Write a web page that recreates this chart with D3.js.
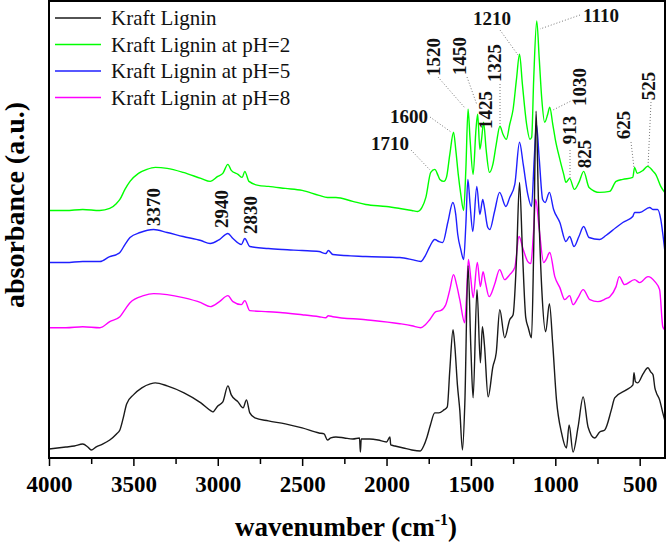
<!DOCTYPE html>
<html>
<head>
<meta charset="utf-8">
<script src="https://cdn.jsdelivr.net/npm/d3@7"></script>
<style>
html,body{margin:0;padding:0;background:#fff;}
svg{display:block;}
text{font-family:"Liberation Serif","Times New Roman",serif;}
</style>
</head>
<body>
<svg id="chart" width="666" height="542"></svg>
<script>
// ---------- DATA (wavenumber cm-1, absorbance a.u., stacked as plotted) ----------
const kraftLignin = [
[4000,0.09],[3950,0.10],[3900,0.11],[3850,0.12],[3800,0.14],[3770,0.11],[3750,0.08],[3720,0.11],
[3680,0.14],[3640,0.18],[3600,0.24],[3580,0.28],[3560,0.40],[3540,0.54],[3500,0.63],[3450,0.70],
[3400,0.74],[3370,0.75],[3300,0.72],[3200,0.65],[3100,0.55],[3040,0.47],[3030,0.46],[3000,0.52],
[2970,0.56],[2940,0.72],[2920,0.63],[2880,0.56],[2850,0.50],[2830,0.58],[2810,0.45],[2780,0.40],
[2700,0.37],[2600,0.34],[2500,0.30],[2400,0.25],[2370,0.24],[2350,0.18],[2330,0.20],[2300,0.21],
[2250,0.20],[2200,0.19],[2160,0.20],[2155,0.06],[2150,0.19],[2100,0.19],[2050,0.18],[2000,0.16],
[1980,0.21],[1975,0.13],[1950,0.12],[1900,0.10],[1850,0.08],[1800,0.07],[1780,0.12],[1760,0.21],
[1740,0.33],[1714,0.45],[1690,0.45],[1660,0.48],[1640,0.51],[1625,0.88],[1606,1.28],[1595,1.11],
[1580,0.73],[1566,0.48],[1550,0.08],[1536,0.55],[1517,1.92],[1500,1.08],[1487,0.60],[1464,1.68],
[1444,0.95],[1432,1.31],[1420,1.13],[1398,0.61],[1370,0.91],[1350,1.05],[1329,1.48],[1300,1.20],
[1270,1.38],[1250,1.43],[1230,1.98],[1212,2.75],[1195,2.08],[1175,1.40],[1160,1.30],[1141,1.20],
[1128,2.08],[1114,3.46],[1100,2.58],[1080,1.68],[1057,1.26],[1035,1.54],[1015,1.13],[993,0.58],
[963,0.25],[934,0.10],[918,0.33],[895,0.06],[865,0.31],[835,0.61],[806,0.31],[767,0.20],
[737,0.26],[707,0.28],[668,0.48],[648,0.60],[579,0.68],[540,0.73],[534,0.85],[525,0.76],
[511,0.75],[480,0.84],[451,0.90],[435,0.86],[421,0.83],[410,0.70],[401,0.65],[382,0.58],
[363,0.45],[352,0.38]
];
const kraftPH2 = [
[4000,2.47],[3900,2.47],[3800,2.48],[3700,2.47],[3640,2.49],[3600,2.54],[3580,2.58],
[3550,2.68],[3520,2.76],[3470,2.84],[3420,2.88],[3370,2.90],[3300,2.89],[3205,2.85],[3100,2.79],
[3045,2.76],[3000,2.81],[2970,2.84],[2940,2.93],[2920,2.87],[2880,2.83],[2855,2.80],[2840,2.86],
[2815,2.76],[2760,2.72],[2700,2.71],[2600,2.69],[2500,2.67],[2400,2.62],[2350,2.60],[2300,2.60],
[2200,2.56],[2123,2.53],[2000,2.51],[1921,2.49],[1850,2.47],[1815,2.46],[1790,2.50],[1767,2.60],
[1738,2.85],[1714,2.88],[1695,2.82],[1684,2.78],[1660,2.76],[1645,2.80],[1625,3.03],[1603,3.25],
[1590,3.08],[1575,2.83],[1560,2.63],[1543,2.47],[1530,2.88],[1517,3.48],[1505,3.18],[1487,2.83],
[1470,3.28],[1460,3.43],[1447,3.08],[1437,3.18],[1425,3.35],[1410,3.08],[1390,2.85],[1370,2.93],
[1350,3.13],[1328,3.31],[1310,3.23],[1290,3.18],[1270,3.33],[1250,3.48],[1230,3.78],[1212,4.03],
[1195,3.73],[1170,3.33],[1150,3.18],[1140,3.20],[1128,3.78],[1110,4.36],[1095,3.98],[1080,3.58],
[1063,3.35],[1045,3.43],[1033,3.50],[1015,3.33],[1000,3.18],[973,2.98],[950,2.83],[937,2.75],
[915,2.79],[887,2.68],[860,2.75],[832,2.86],[800,2.70],[737,2.65],[678,2.66],[640,2.76],
[600,2.78],[541,2.80],[530,2.90],[515,2.84],[480,2.87],[453,2.91],[420,2.86],[405,2.83],
[375,2.71],[352,2.65]
];
const kraftPH5 = [
[4000,1.95],[3900,1.95],[3800,1.96],[3698,1.96],[3640,2.01],[3600,2.03],[3580,2.05],[3550,2.13],
[3520,2.20],[3460,2.25],[3380,2.28],[3300,2.25],[3205,2.21],[3100,2.17],[3045,2.14],[2990,2.18],
[2940,2.24],[2910,2.19],[2860,2.13],[2840,2.19],[2810,2.11],[2700,2.09],[2615,2.08],[2500,2.07],
[2400,2.06],[2360,2.04],[2345,2.07],[2318,2.03],[2123,2.01],[1921,2.00],[1850,1.98],[1797,1.96],
[1770,2.02],[1744,2.11],[1714,2.18],[1690,2.16],[1667,2.15],[1637,2.35],[1607,2.55],[1590,2.43],
[1578,2.23],[1560,2.08],[1543,1.98],[1530,2.33],[1518,2.78],[1505,2.53],[1489,2.26],[1465,2.71],
[1447,2.43],[1430,2.58],[1420,2.50],[1400,2.30],[1388,2.28],[1360,2.46],[1330,2.65],[1293,2.51],
[1270,2.60],[1240,2.73],[1212,3.15],[1190,2.93],[1163,2.63],[1141,2.51],[1125,2.98],[1112,3.33],
[1095,2.98],[1075,2.58],[1060,2.55],[1035,2.65],[1010,2.48],[973,2.35],[937,2.16],[915,2.21],
[889,2.11],[860,2.21],[832,2.31],[800,2.20],[737,2.18],[700,2.22],[640,2.30],[600,2.35],
[541,2.41],[530,2.45],[500,2.45],[441,2.50],[420,2.48],[394,2.48],[375,2.38],[364,2.25],[352,2.08]
];
const kraftPH8 = [
[4000,1.30],[3900,1.30],[3800,1.31],[3698,1.30],[3640,1.36],[3580,1.41],[3550,1.48],[3520,1.55],
[3440,1.62],[3380,1.64],[3300,1.63],[3205,1.60],[3100,1.55],[3045,1.51],[2990,1.56],[2940,1.62],
[2910,1.56],[2860,1.53],[2840,1.57],[2810,1.47],[2700,1.46],[2615,1.45],[2500,1.43],[2400,1.41],
[2360,1.40],[2345,1.42],[2318,1.41],[2123,1.38],[1921,1.34],[1850,1.32],[1797,1.30],[1770,1.33],
[1744,1.38],[1707,1.46],[1680,1.47],[1649,1.53],[1625,1.68],[1603,1.83],[1585,1.73],[1566,1.58],
[1537,1.35],[1527,1.58],[1515,1.98],[1500,1.78],[1487,1.60],[1462,1.95],[1444,1.71],[1428,1.86],
[1415,1.76],[1392,1.61],[1360,1.73],[1330,1.88],[1300,1.78],[1270,1.83],[1240,1.90],[1215,2.21],
[1190,2.08],[1163,1.96],[1145,1.94],[1130,2.23],[1116,2.58],[1095,2.28],[1069,1.95],[1055,1.98],
[1033,2.05],[1003,1.81],[973,1.70],[944,1.58],[915,1.62],[895,1.53],[865,1.60],[835,1.68],
[795,1.58],[748,1.56],[700,1.59],[677,1.61],[640,1.71],[621,1.81],[590,1.73],[530,1.78],
[500,1.75],[451,1.81],[410,1.76],[382,1.68],[363,1.31],[352,1.28]
];
const seriesNames = ["Kraft Lignin","Kraft Lignin at pH=2","Kraft Lignin at pH=5","Kraft Lignin at pH=8"];
const seriesData = [kraftLignin, kraftPH2, kraftPH5, kraftPH8];
const seriesColors = ["#1a1a1a","#00ff00","#1f1fff","#ff00ff"];
const xTickValues = [4000,3500,3000,2500,2000,1500,1000,500];
const xMinorTicks = [3750,3250,2750,2250,1750,1250,750];
const peakLabels = ["1710","1600","1520","1450","1425","1325","1210","1110","1030","913","825","625","525","3370","2940","2830"];

// ---------- LAYOUT ----------
const SERIF = '"Liberation Serif","Times New Roman",serif';
const plot = {left:49, right:665, top:1, bottom:458};
const svg = d3.select("#chart");
const x = d3.scaleLinear().domain([4000,350]).range([plot.left, plot.right]);
const y = d3.scaleLinear().domain([0,4.56]).range([plot.bottom, plot.top]);

// spectra
const line = d3.line().x(d=>x(d[0])).y(d=>y(d[1])).curve(d3.curveMonotoneX);
const g = svg.append("g");
[3,2,1,0].forEach(i=>{
  g.append("path").datum(seriesData[i]).attr("d", line)
   .attr("fill","none").attr("stroke", seriesColors[i]).attr("stroke-width",1.4)
   .attr("stroke-linejoin","round");
});

// frame
svg.append("rect").attr("x",plot.left).attr("y",plot.top)
  .attr("width",plot.right-plot.left).attr("height",plot.bottom-plot.top)
  .attr("fill","none").attr("stroke","#000").attr("stroke-width",2);

// x axis
const xAxis = d3.axisBottom(x).tickValues(xTickValues).tickSize(8).tickPadding(10).tickFormat(d3.format("d"));
const ax = svg.append("g").attr("transform",`translate(0,${plot.bottom})`).call(xAxis)
  .attr("font-family", SERIF).attr("font-size",23).attr("font-weight","bold");
ax.select(".domain").remove();
ax.selectAll(".tick line").attr("stroke","#000").attr("stroke-width",1.5);
ax.selectAll(".tick text").attr("fill","#000").attr("font-family", SERIF);
const axMinor = d3.axisBottom(x).tickValues(xMinorTicks).tickSize(6).tickFormat("");
const am = svg.append("g").attr("transform",`translate(0,${plot.bottom})`).call(axMinor);
am.select(".domain").remove();
am.selectAll(".tick line").attr("stroke","#000").attr("stroke-width",1.5);

// axis titles
const xt = svg.append("text").attr("x",346).attr("y",536).attr("text-anchor","middle")
  .attr("font-size",27).attr("font-weight","bold").attr("fill","#000");
xt.append("tspan").text("wavenumber (cm");
xt.append("tspan").text("-1").attr("font-size",16).attr("dy",-11);
xt.append("tspan").text(")").attr("dy",11);

svg.append("text").attr("transform","translate(24,205) rotate(-90)").attr("text-anchor","middle")
  .attr("font-size",28).attr("font-weight","bold").attr("fill","#000").text("absorbance (a.u.)");

// legend
const legendRowY = [18,44.5,71,97.5];
const lg = svg.append("g");
seriesNames.forEach((n,i)=>{
  lg.append("line").attr("x1",55).attr("x2",101).attr("y1",legendRowY[i]).attr("y2",legendRowY[i])
    .attr("stroke",seriesColors[i]).attr("stroke-width",1.4);
  lg.append("text").attr("x",111).attr("y",legendRowY[i]+7).attr("font-size",21).attr("fill","#111").text(n);
});

// peak annotations (position layout: [rotated?, anchorX, anchorY, leader x1,y1,x2,y2])
const annLayout = {
  "1710":[false,390,150, 411,150,430,170],
  "1600":[false,409,123, 430,117,451,132],
  "1520":[true,440,57, 438,77,465,108],
  "1450":[true,466,56, 467,77,477,105],
  "1425":[true,492,110],
  "1325":[true,501,63, 500,84,500,125],
  "1210":[false,492,25, 500,30,518,55],
  "1110":[false,601,22, 580,15,540,29],
  "1030":[true,586,87, 573,100,553,110],
  "913":[true,576,130, 570,150,570,178],
  "825":[true,591,154],
  "625":[true,630,125, 631,142,634,168],
  "525":[true,655,86, 651,102,648,167],
  "3370":[true,160,207],
  "2940":[true,228,209],
  "2830":[true,257,215]
};
const an = svg.append("g");
peakLabels.forEach(lbl=>{
  const L = annLayout[lbl];
  if (L.length > 3) {
    an.append("line").attr("x1",L[3]).attr("y1",L[4]).attr("x2",L[5]).attr("y2",L[6])
      .attr("stroke","#777").attr("stroke-width",1).attr("stroke-dasharray","1,2");
  }
  const t = an.append("text").attr("font-size",19).attr("font-weight","bold").attr("fill","#111").text(lbl);
  if (L[0]) t.attr("transform",`translate(${L[1]},${L[2]}) rotate(-90)`).attr("text-anchor","middle");
  else t.attr("x",L[1]).attr("y",L[2]).attr("text-anchor","middle");
});
</script>
</body>
</html>
